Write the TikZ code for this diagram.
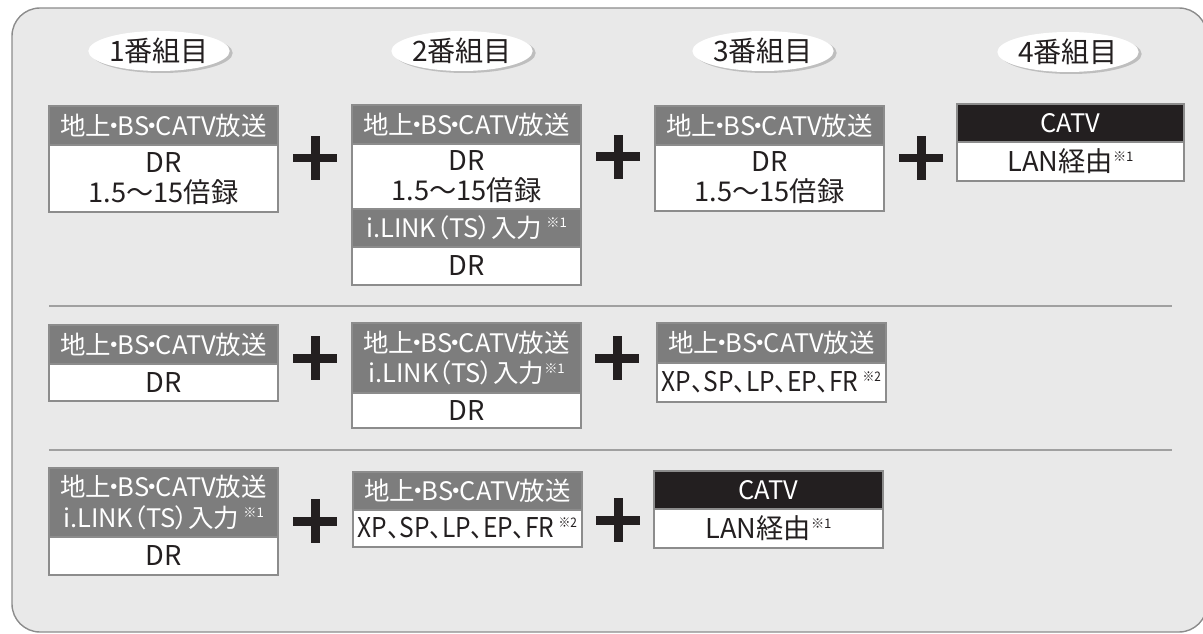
\documentclass[tikz,border=0pt]{standalone}
\usepackage{fontspec}
\setmainfont{Noto Sans CJK JP}[RawFeature=+palt]
\usetikzlibrary{positioning,shapes.geometric,shadows}
\definecolor{recpanel}{RGB}{233,233,233}
\definecolor{recframe}{RGB}{140,140,140}
\definecolor{rechead}{RGB}{125,125,125}
\definecolor{recink}{RGB}{35,31,32}
\definecolor{recrule}{RGB}{160,160,160}
\definecolor{recshadow}{RGB}{190,190,190}
\newcommand{\kome}[1]{\raisebox{0.7ex}{\fontsize{7.5}{7.5}\selectfont ※#1}}
\newcommand{\ndot}{\kern-0.12em・\kern-0.12em}
\newcommand{\bcast}{地上\ndot BS\ndot CATV放送}
\newcommand{\modes}{\scalebox{0.9}[1]{XP、SP、LP、EP、FR\,\kome{2}}}
\tikzset{
  rec cell/.style={
    draw=recframe,
    line width=1.1pt,
    inner sep=0pt,
    outer sep=0pt,
    minimum width=4.58cm,
    align=center,
  },
  rec head/.style={
    rec cell,
    fill=rechead,
    text=white,
    font=\fontsize{14.5}{17.5}\selectfont,
    minimum height=0.78cm,
  },
  rec body/.style={
    rec cell,
    fill=white,
    text=recink,
    font=\fontsize{15.5}{17}\selectfont,
    minimum height=0.76cm,
  },
  rec plus/.style={
    minimum size=0.88cm,
    inner sep=0pt,
    path picture={
      \fill[recink] ([yshift=-0.09cm]path picture bounding box.west) rectangle ([yshift=0.09cm]path picture bounding box.east);
      \fill[recink] ([xshift=-0.09cm]path picture bounding box.south) rectangle ([xshift=0.09cm]path picture bounding box.north);
    },
  },
  rec pill/.style={
    ellipse,
    fill=white,
    inner sep=0pt,
    minimum width=2.64cm,
    minimum height=0.8cm,
    text=recink,
    font=\fontsize{16}{18}\selectfont,
    drop shadow={shadow xshift=0.06cm, shadow yshift=-0.04cm, fill=recshadow, opacity=1},
  },
}

\begin{document}
\begin{tikzpicture}[x=1cm,y=1cm]
  \tikzstyle{sepline}=[recrule, line width=1.4pt]
  \useasboundingbox (0,0) rectangle (24.06,12.66);
  \draw[recframe, fill=recpanel, line width=0.8pt, rounded corners=0.56cm] (0.24,12.5) rectangle (24.14,0.02);

  % Program headings
  \node[rec pill] (pill1) at (3.18,11.64) {1番組目};
  \node[rec pill] (pill2) at (9.24,11.64) {2番組目};
  \node[rec pill] (pill3) at (15.26,11.64) {3番組目};
  \node[rec pill] (pill4) at (21.36,11.62) {4番組目};

  % Row 1
  \node[rec head, anchor=north west] (head11) at (0.98,10.54) {\bcast};
  \node[rec body, minimum height=1.34cm, below=0pt of head11] (body11) {DR\\1.5〜15倍録};
  \node[rec plus] (plus11) at (6.30,9.50) {};

  \node[rec head, anchor=north west] (head12) at (7.04,10.56) {\bcast};
  \node[rec body, minimum height=1.30cm, below=0pt of head12] (body12) {DR\\1.5〜15倍録};
  \node[rec head, minimum height=0.76cm, below=0pt of body12] (head12b) {i.LINK（TS）入力\,\kome{1}};
  \node[rec body, below=0pt of head12b] (body12b) {DR};
  \node[rec plus] (plus12) at (12.36,9.52) {};

  \node[rec head, anchor=north west] (head13) at (13.10,10.54) {\bcast};
  \node[rec body, minimum height=1.32cm, below=0pt of head13] (body13) {DR\\1.5〜15倍録};
  \node[rec plus] (plus13) at (18.42,9.50) {};

  \node[rec head, fill=recink, minimum width=4.54cm, minimum height=0.76cm, anchor=north west] (head14) at (19.14,10.58) {CATV};
  \node[rec body, minimum width=4.54cm, minimum height=0.78cm, below=0pt of head14] (body14) {LAN経由\kome{1}};

  \draw[sepline] (0.98,6.54) -- (23.44,6.54);

  % Row 2
  \node[rec head, anchor=north west] (head21) at (0.98,6.16) {\bcast};
  \node[rec body, minimum height=0.74cm, below=0pt of head21] (body21) {DR};
  \node[rec plus] (plus21) at (6.30,5.50) {};

  \node[rec head, minimum height=1.40cm, anchor=north west] (head22) at (7.04,6.20) {\bcast\\i.LINK（TS）入力\kome{1}};
  \node[rec body, minimum height=0.70cm, below=0pt of head22] (body22) {DR};
  \node[rec plus] (plus22) at (12.34,5.50) {};

  \node[rec head, minimum height=0.80cm, anchor=north west] (head23) at (13.14,6.20) {\bcast};
  \node[rec body, minimum height=0.78cm, below=0pt of head23] (body23) {\modes};

  \draw[sepline] (0.98,3.66) -- (23.44,3.66);

  % Row 3
  \node[rec head, minimum height=1.38cm, anchor=north west] (head31) at (0.98,3.30) {\bcast\\i.LINK（TS）入力\,\kome{1}};
  \node[rec body, below=0pt of head31] (body31) {DR};
  \node[rec plus] (plus31) at (6.30,2.24) {};

  \node[rec head, minimum height=0.76cm, anchor=north west] (head32) at (7.06,3.22) {\bcast};
  \node[rec body, minimum height=0.74cm, below=0pt of head32] (body32) {\modes};
  \node[rec plus] (plus32) at (12.36,2.26) {};

  \node[rec head, fill=recink, minimum height=0.76cm, anchor=north west] (head33) at (13.08,3.24) {CATV};
  \node[rec body, minimum height=0.78cm, below=0pt of head33] (body33) {LAN経由\kome{1}};
\end{tikzpicture}
\end{document}
